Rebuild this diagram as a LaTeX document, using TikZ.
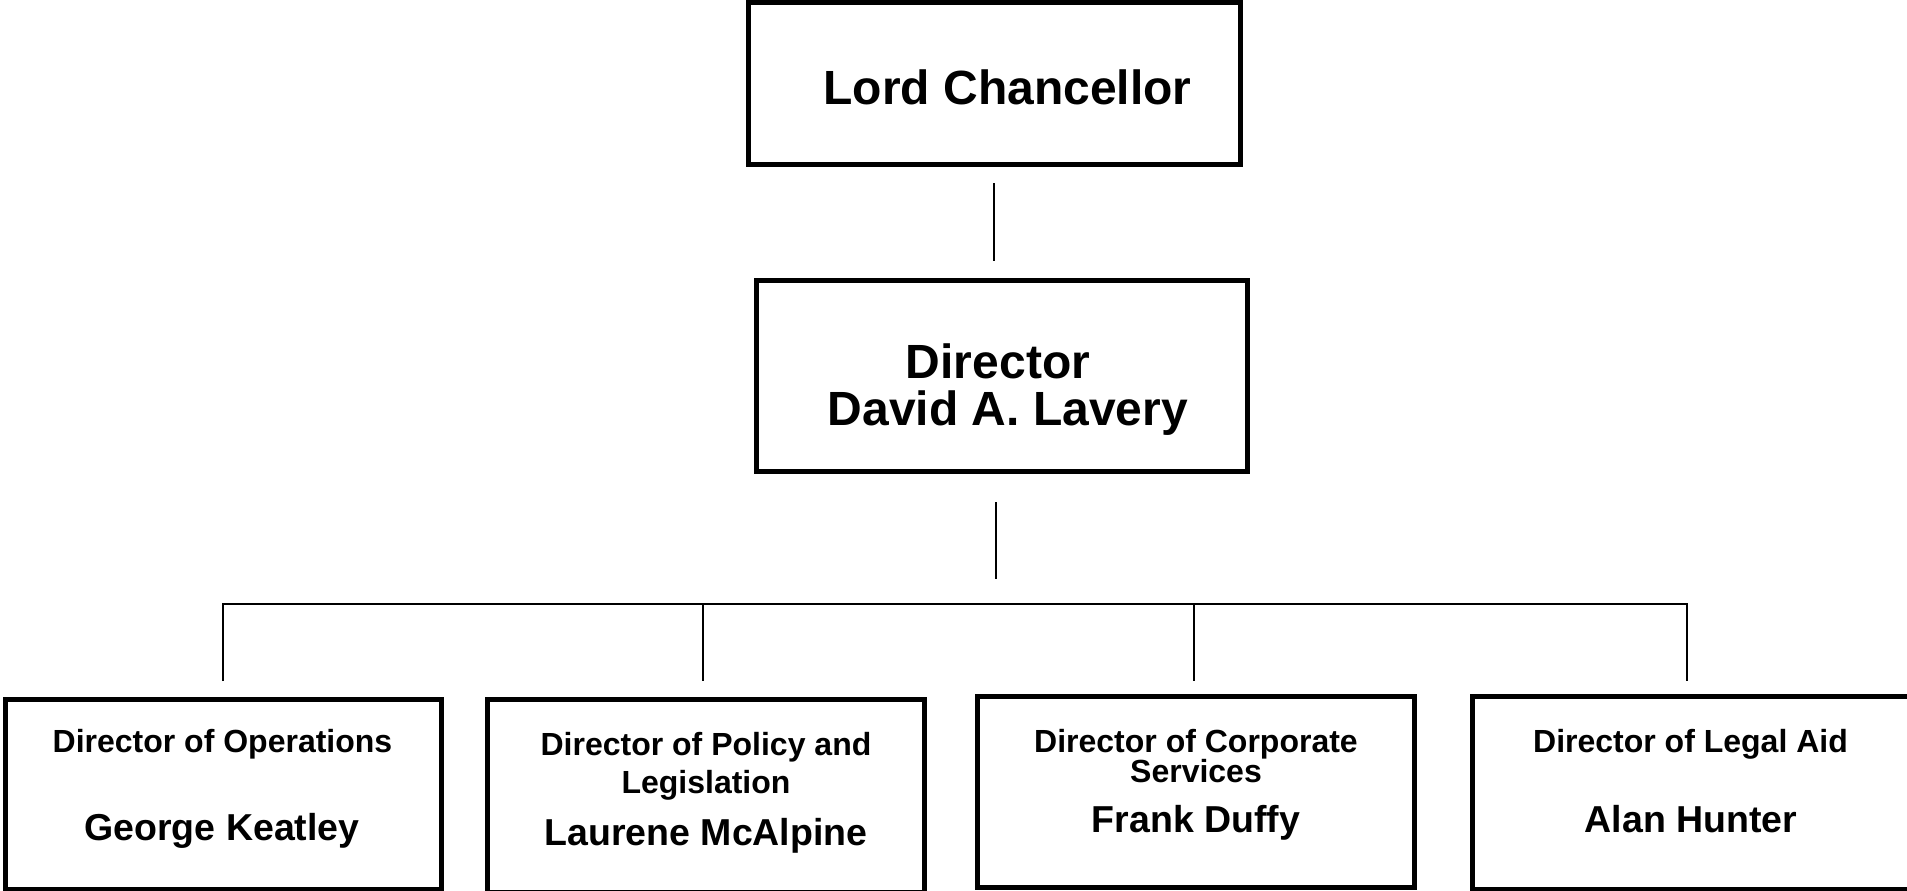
\documentclass[tikz,border=0pt]{standalone}
\usepackage{fontspec}
\setmainfont{Liberation Sans}
\begin{document}
\begin{tikzpicture}[x=1pt,y=-1pt,
  box/.style={draw=black, line width=5pt, inner sep=0pt, fill=none},
  link/.style={draw=black, line width=2.4pt},
  bus/.style={draw=black, line width=2.2pt},
  big/.style={anchor=base, inner sep=0pt, font=\fontsize{48}{48}\selectfont\bfseries},
  ttl/.style={anchor=base, inner sep=0pt, font=\fontsize{32}{32}\selectfont\bfseries},
  nm/.style={anchor=base, inner sep=0pt, font=\fontsize{37.5}{37.5}\selectfont\bfseries}]
\useasboundingbox[fill=white] (0,0) rectangle (1907,891);

% boxes
\node[box, minimum width=491.5pt, minimum height=161.5pt] (lc) at (994.25,83.25) {};
\node[box, minimum width=491pt, minimum height=191pt] (dir) at (1002,376) {};
\node[box, minimum width=436.5pt, minimum height=189.5pt] (b1) at (223.25,794.25) {};
\node[box, minimum width=437.5pt, minimum height=192.5pt] (b2) at (705.75,795.75) {};
\node[box, minimum width=437.5pt, minimum height=191pt] (b3) at (1195.75,792) {};
\node[box, minimum width=438pt, minimum height=192.5pt] (b4) at (1691,792.75) {};

% texts
\node[big] (lct) at (1007.5,104) {Lord Chancellor};
\node[big] (dirt1) at (998,378) {Director};
\node[big] (dirt2) at (1008,425) {David A. Lavery};

\node[ttl] (b1t) at (222.5,752) {Director of Operations};
\node[nm]  (b1n) at (222,840) {George Keatley};

\node[ttl] (b2t1) at (706,755) {Director of Policy and};
\node[ttl] (b2t2) at (706,793) {Legislation};
\node[nm]  (b2n)  at (706,845) {Laurene McAlpine};

\node[ttl] (b3t1) at (1196,752) {Director of Corporate};
\node[ttl] (b3t2) at (1196,782) {Services};
\node[nm]  (b3n)  at (1196,832) {Frank Duffy};

\node[ttl] (b4t) at (1690.5,752) {Director of Legal Aid};
\node[nm]  (b4n) at (1691,832) {Alan Hunter};

% connectors
\coordinate (c1a) at (994,183);
\coordinate (c1b) at (994,261);
\draw[link] (c1a) -- (c1b);
\coordinate (c2a) at (996,502);
\coordinate (c2b) at (996,579);
\draw[link] (c2a) -- (c2b);

\coordinate (bl) at (223,604);
\coordinate (br) at (1687,604);
\coordinate (d1) at (223,681);
\coordinate (d2t) at (703,604);
\coordinate (d2) at (703,681);
\coordinate (d3t) at (1194,604);
\coordinate (d3) at (1194,681);
\coordinate (d4) at (1687,681);
\draw[bus] (d1) -- (bl) -- (br) -- (d4);
\draw[bus] (d2t) -- (d2);
\draw[bus] (d3t) -- (d3);
\end{tikzpicture}
\end{document}
